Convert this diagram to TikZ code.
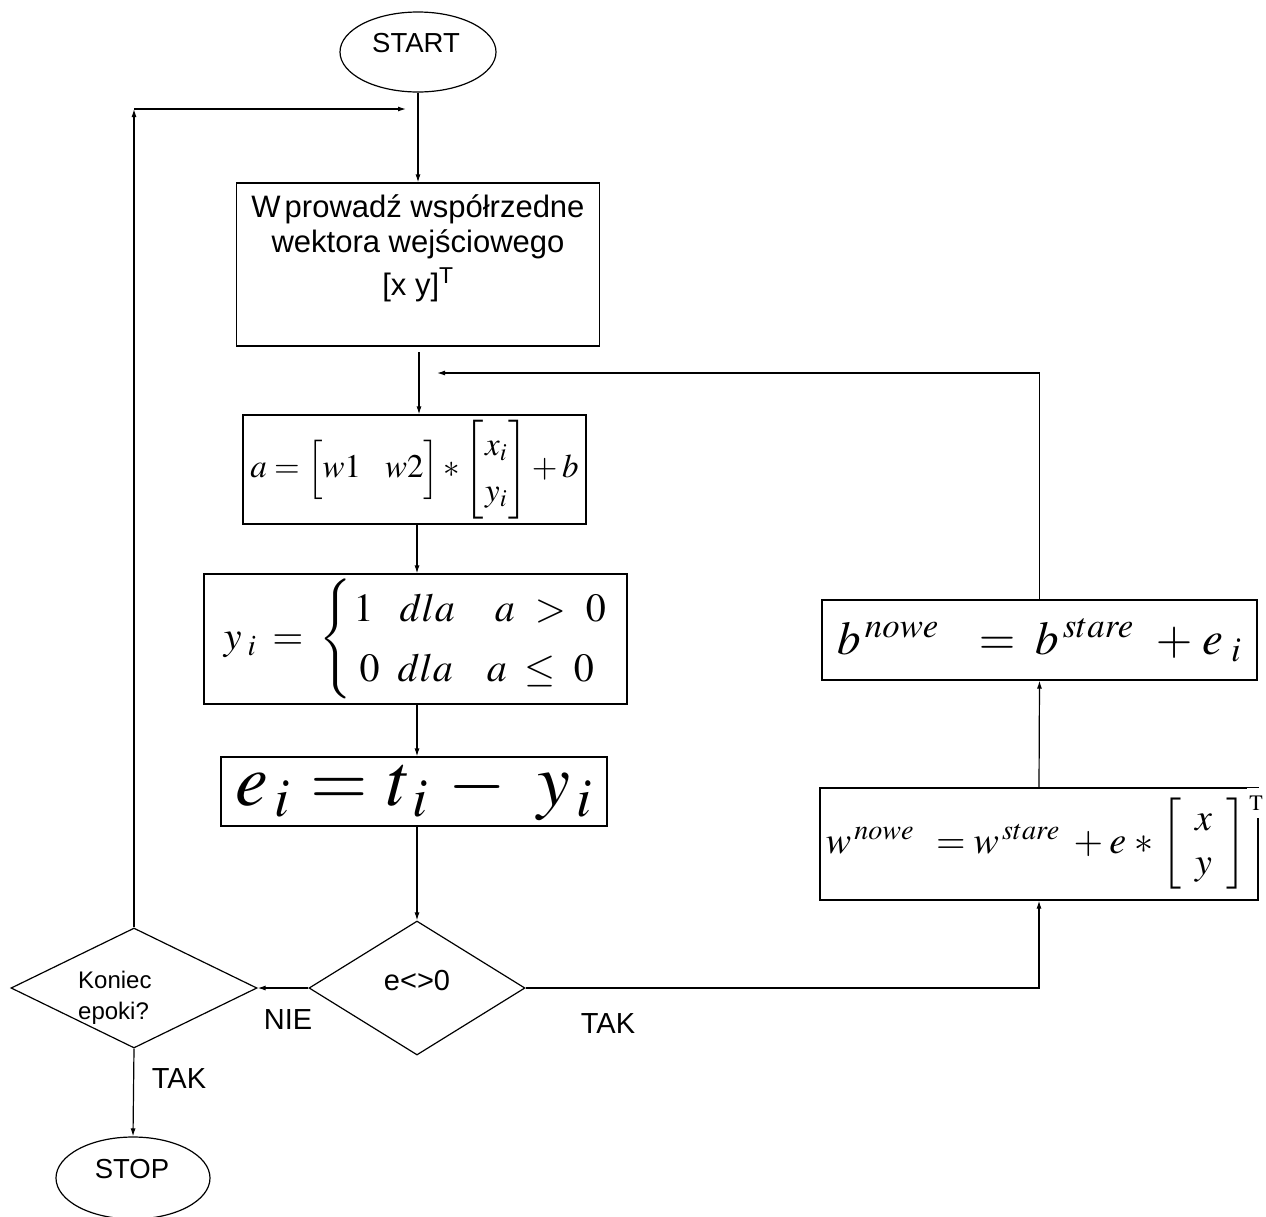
\documentclass[tikz,border=0pt]{standalone}
\usepackage{amsmath}
\usepackage{mathptmx}
\usepackage[no-math]{fontspec}
\setmainfont{Liberation Sans}
\usetikzlibrary{shapes.geometric,arrows.meta}

\newcommand\fsz[2]{\fontsize{#1}{#2}\selectfont}

\tikzset{
  line/.style={line width=1.2pt, draw=black},
  arr/.style={line, -{Latex[length=8pt,width=5pt]}},
  term/.style={ellipse, line, inner sep=0pt},
  stepbox/.style={rectangle, line, inner sep=0pt},
  decision/.style={diamond, line, inner sep=0pt},
  label/.style={inner sep=0pt, font=\fsz{29}{34}},
}

\begin{document}
\begin{tikzpicture}[x=1pt, y=-1pt]
\useasboundingbox (0,0) rectangle (1266,1216);

% terminals
\node[term, minimum width=156, minimum height=80] (start) at (418,52) {};
\node[label, font=\fsz{27.5}{30}] (startT) at (416,43) {START};
\node[term, minimum width=154, minimum height=82] (stop) at (133,1178) {};
\node[label, font=\fsz{27.5}{30}] (stopT) at (132,1169) {STOP};

% input block
\node[stepbox, minimum width=363, minimum height=163] (in) at (418,264.5) {};
\node[inner sep=0pt, align=center, font=\fsz{31}{35}, anchor=north] (inT) at (418,194)
  {W\kern4pt prowadź współrzedne\\wektora wejściowego\\[8pt][x y]\textsuperscript{T}};

% net input
\node[stepbox, minimum width=343, minimum height=109] (a) at (414.5,469.5)
  {\fsz{33}{40}$a = \Bigl[ w1 \hspace{24pt} w2 \Bigr] *
   {\renewcommand\arraystretch{1.15}\left[\begin{array}{@{\hspace{1pt}}c@{\hspace{1pt}}} x_i \\ y_i \end{array}\right]} + b$};

% activation
\node[stepbox, minimum width=423, minimum height=130] (y) at (415.5,639)
  {\fsz{40}{50}$y_{\hspace{6pt}i}\hspace{16pt}{=}\hspace{16pt}
   {\renewcommand\arraystretch{1.2}\left\{\begin{array}{@{\hspace{2pt}}l@{}}
     1\hspace{26pt}dla\hspace{40pt}a\hspace{20pt}{>}\hspace{20pt}0 \\
     \hspace{6pt}0\hspace{18pt}dla\hspace{34pt}a\hspace{18pt}{\le}\hspace{18pt}0
   \end{array}\right.}$};

% error
\node[stepbox, minimum width=386, minimum height=69] (e) at (414,791.5)
  {\fsz{74}{78}$e_{\,i}\hspace{20pt}{=}\hspace{20pt}t_{\,i}\hspace{20pt}{-}\hspace{32pt}y_{\,i}$};

% decisions
\node[decision, minimum width=216, minimum height=134] (d1) at (417,988) {};
\node[label, font=\fsz{29}{32}] (d1T) at (417,981) {e<>0};
\node[decision, minimum width=246, minimum height=120] (d2) at (134,988) {};
\node[inner sep=0pt, align=left, font=\fsz{24}{31}, anchor=base west] (d2T) at (78,1019) {Koniec\\epoki?};

% weight update
\node[stepbox, minimum width=438, minimum height=112] (w) at (1039,844)
  {\fsz{38}{40}$w^{\,nowe}\hspace{22pt}{=}\hspace{8pt}w^{\,stare}\hspace{14pt}{+}\hspace{6pt}e\hspace{8pt}{*}\hspace{8pt}
   {\renewcommand\arraystretch{1.1}\left[\begin{array}{@{\hspace{14pt}}c@{\hspace{14pt}}} x \\ y \end{array}\right]}\hspace{6pt}$};
\node[fill=white, inner sep=0pt, minimum width=18, minimum height=30] (wT) at (1256,803)
  {\fsz{22}{24}$\mathrm{T}$};

% bias update
\node[stepbox, minimum width=435, minimum height=80] (b) at (1039.5,640)
  {\fsz{47}{54}$b^{\,nowe}\hspace{40pt}{=}\hspace{20pt}b^{\,stare}\hspace{22pt}{+}\hspace{10pt}e_{\hspace{8pt}i}$};

% loop coordinates
\coordinate (lc) at (134,109);
\coordinate (le) at (406,109);
\coordinate (ia) at (419,352);
\coordinate (fb) at (437,373);

% connectors
\draw[arr] (start.south) -- (in.north);
\draw[arr] (ia) -- (ia |- a.north);
\draw[arr] (a.south -| d1.north) -- (y.north -| d1.north);
\draw[arr] (y.south -| d1.north) -- (e.north -| d1.north);
\draw[arr] (e.south -| d1.north) -- (d1.north);
\draw[arr] (d1.west) -- (d2.east);
\draw[arr] (d1.east) -| (w.south);
\draw[arr] (w.north) -- (b.south);
\draw[arr] (b.north) |- (fb);
\draw[arr] (d2.north) -- (lc);
\draw[arr] (lc) -- (le);
\draw[arr] (d2.south) -- (stop.north);

% branch labels
\node[label] (nie) at (288,1020) {NIE};
\node[label] (tak1) at (608,1024) {TAK};
\node[label] (tak2) at (179,1079) {TAK};
\end{tikzpicture}
\end{document}
